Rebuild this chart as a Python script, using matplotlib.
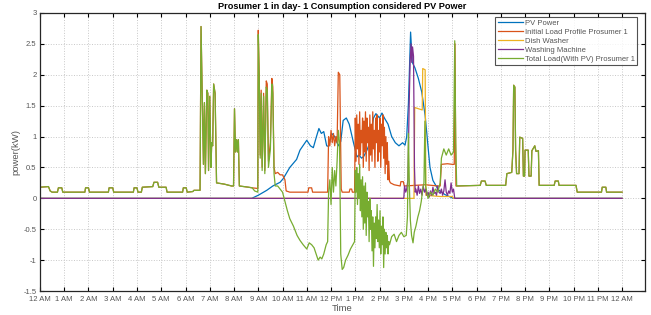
import matplotlib
matplotlib.use('Agg')
import matplotlib.pyplot as plt

plt.rcParams['font.family'] = ['Liberation Sans', 'DejaVu Sans']

# hours of the day (0 = 12 AM) and power in kW

# base load before PV starts (initial load == total load here)
early_t = [0.0, 0.35, 0.42, 0.5, 0.72, 0.76, 0.9, 0.94, 1.85, 1.88, 2.0, 2.04,
           2.82, 2.85, 3.0, 3.04, 3.85, 3.88, 4.0, 4.04, 4.18, 4.22, 4.65, 4.7,
           4.85, 4.9, 5.2, 5.24, 5.88, 5.91, 6.03, 6.07, 6.3, 6.35, 6.6, 6.64,
           6.7, 6.74, 6.78, 6.82, 6.88, 6.92, 6.95, 7.0, 7.05, 7.08, 7.12, 7.16,
           7.22, 7.28, 7.6, 7.9, 7.98, 8.02, 8.06, 8.1, 8.14, 8.18, 8.22, 8.6, 8.75]
early_v = [0.18, 0.19, 0.12, 0.1, 0.1, 0.17, 0.17, 0.1, 0.1, 0.17, 0.17, 0.1,
           0.1, 0.17, 0.17, 0.1, 0.1, 0.17, 0.17, 0.1, 0.1, 0.18, 0.19, 0.26,
           0.26, 0.18, 0.18, 0.1, 0.1, 0.17, 0.17, 0.1, 0.11, 0.13, 0.13, 2.78,
           1.5, 0.55, 1.55, 0.4, 1.75, 1.7, 0.45, 1.65, 0.5, 0.9, 0.85, 1.85,
           1.7, 0.25, 0.23, 0.2, 0.2, 1.45, 0.75, 0.95, 0.75, 0.95, 0.2, 0.18, 0.17]

# base load after the appliances stop
late_t = [17.18, 18.15, 18.2, 18.35, 18.4, 19.2, 19.25, 19.45, 19.5, 19.53, 19.58,
          19.61, 19.65, 19.75, 19.78, 19.9, 19.93, 19.98, 20.0, 20.13, 20.16, 20.25,
          20.28, 20.4, 20.45, 20.55, 20.58, 21.2, 21.24, 21.37, 21.4, 22.1, 22.15,
          23.15, 23.18, 23.33, 23.36, 24.0]
late_v = [0.2, 0.21, 0.28, 0.28, 0.21, 0.21, 0.4, 0.42, 0.78, 1.83, 1.8,
          0.78, 0.4, 0.4, 0.99, 0.97, 0.36, 0.36, 0.78, 0.78, 0.36, 0.36,
          0.77, 0.85, 0.76, 0.77, 0.21, 0.21, 0.28, 0.28, 0.21, 0.21, 0.1,
          0.1, 0.18, 0.18, 0.1, 0.1]

# initial load profile, daytime part
load_t = [8.98, 9.0, 9.04, 9.08, 9.12, 9.16, 9.22, 9.27, 9.33, 9.37, 9.42, 9.5,
          9.56, 9.6, 9.65, 9.7, 9.8, 9.9, 10.0, 10.1, 10.15, 10.3, 11.05, 11.08,
          11.2, 11.24, 11.86, 11.9, 11.95, 12.0, 12.05, 12.1, 12.15, 12.2, 12.25,
          12.3, 12.36, 12.42, 12.46, 12.75, 12.78, 12.85, 12.88, 12.97,
          13.0, 13.03, 13.06, 13.09, 13.12, 13.15, 13.18, 13.21, 13.24, 13.27,
          13.3, 13.33, 13.36, 13.39, 13.42, 13.45, 13.48, 13.51, 13.54, 13.57,
          13.6, 13.63, 13.66, 13.69, 13.72, 13.75, 13.78, 13.81, 13.84, 13.87,
          13.9, 13.93, 13.96, 13.99, 14.02, 14.05, 14.08, 14.11, 14.14, 14.17,
          14.2, 14.23, 14.26, 14.29, 14.32, 14.35, 14.38, 14.41, 14.45, 14.6,
          14.85, 14.88, 14.98, 15.02, 15.9, 16.4, 16.5, 16.55, 16.8, 17.0, 17.08,
          17.11, 17.15]
load_v = [0.16, 2.72, 2.0, 0.7, 1.75, 0.5, 1.7, 0.45, 1.9, 1.85, 0.6, 0.9,
          1.94, 1.8, 0.5, 0.4, 0.42, 0.38, 0.38, 0.3, 0.12, 0.1, 0.1, 0.17,
          0.17, 0.1, 0.1, 1.0, 0.85, 1.1, 0.9, 1.05, 0.85, 1.0, 0.9,
          2.04, 2.0, 0.15, 0.1, 0.1, 0.15, 0.15, 0.1, 0.1,
          1.3, 0.6, 1.35, 0.8, 1.2, 0.55, 1.4, 0.7, 1.1, 0.9,
          1.3, 0.5, 1.25, 0.75, 1.4, 0.6, 1.3, 0.9, 1.15, 0.45,
          1.35, 0.7, 1.2, 0.6, 1.4, 0.8, 1.1, 0.5, 1.3, 0.9,
          1.35, 0.6, 1.1, 0.75, 1.3, 0.5, 1.2, 0.85, 1.35, 0.65,
          1.15, 0.4, 1.0, 0.55, 0.9, 0.3, 0.6, 0.28, 0.25, 0.22,
          0.2, 0.27, 0.27, 0.2, 0.22, 0.2, 0.2, 0.55, 0.56, 0.55, 0.55,
          2.5, 0.2]

# total load with PV, daytime part
total_t = [8.85, 8.98, 9.0, 9.04, 9.08, 9.12, 9.16, 9.22, 9.27, 9.33, 9.37, 9.42,
           9.5, 9.56, 9.6, 9.65, 9.7, 9.8, 9.9, 10.0, 10.1, 10.2, 10.3, 10.45,
           10.6, 10.72, 10.85, 11.0, 11.1, 11.2, 11.3, 11.4, 11.47, 11.55, 11.62,
           11.7, 11.8, 11.86, 11.9, 11.95, 12.0, 12.05, 12.1, 12.15, 12.2, 12.25,
           12.3, 12.35, 12.4, 12.46, 12.52, 12.6, 12.7, 12.8, 12.9, 12.97,
           13.0, 13.03, 13.06, 13.09, 13.12, 13.15, 13.18, 13.21, 13.24, 13.27,
           13.3, 13.33, 13.36, 13.39, 13.42, 13.45, 13.48, 13.51, 13.54, 13.57,
           13.6, 13.63, 13.66, 13.69, 13.72, 13.75, 13.78, 13.81, 13.84, 13.87,
           13.9, 13.93, 13.96, 13.99, 14.02, 14.05, 14.08, 14.11, 14.14, 14.17,
           14.2, 14.23, 14.26, 14.29, 14.32, 14.35, 14.38, 14.41, 14.5, 14.6,
           14.7, 14.8, 14.9, 15.0, 15.1, 15.15, 15.19, 15.23, 15.27, 15.32, 15.38,
           15.43, 15.5, 15.58, 15.65, 15.72, 15.78, 15.83, 15.87, 15.9, 15.95,
           16.0, 16.1, 16.2, 16.3, 16.4, 16.5, 16.55, 16.65, 16.75, 16.85, 16.95,
           17.05, 17.1, 17.14]
total_v = [0.12, 0.1, 2.65, 1.9, 0.65, 1.7, 0.45, 1.65, 0.4, 1.8, 1.75, 0.5,
           0.8, 1.85, 1.7, 0.4, 0.2, 0.2, 0.15, 0.1, -0.05, -0.2, -0.33, -0.45,
           -0.6, -0.68, -0.75, -0.82, -0.72, -0.75, -0.8, -0.92, -1.0, -0.95, -0.98,
           -0.9, -0.75, -0.7, 0.1, 0.3, -0.1, 0.5, 0.1, 0.45, 0.2, 0.6,
           1.1, 0.9, -0.9, -1.15, -1.12, -1.0, -0.92, -0.82, -0.75, -0.7,
           0.45, 0.1, 0.5, -0.1, 0.4, 0.0, 0.55, -0.2, 0.3, -0.3,
           0.35, -0.5, 0.2, -0.4, 0.25, -0.6, 0.1, -0.3, -0.05, -0.7,
           0.0, -0.5, -0.2, -0.85, -0.3, -1.1, -0.4, -0.8, -0.3, -0.65,
           -0.1, -0.7, -0.35, -0.8, -0.2, -0.9, -0.45, -0.75, -0.3, -1.12,
           -0.5, -0.9, -0.55, -0.8, -0.6, -0.9, -0.7, -0.75, -0.62, -0.58,
           -0.7, -0.6, -0.55, -0.62, -0.6, -0.3, 1.05, 0.2, -0.35, -0.6, -0.72,
           -0.55, -0.45, -0.3, -0.2, -0.05, 0.15, 0.25, 1.25, 0.2, 0.1,
           0.0, 0.1, 0.05, 0.15, 0.1, 0.25, 0.65, 0.8, 0.7, 0.8, 0.7,
           0.75, 2.55, 0.9]

pv_t = [0.0, 8.73, 9.0, 9.35, 9.6, 9.9, 10.03, 10.3, 10.58, 10.72, 11.0, 11.15,
        11.27, 11.4, 11.5, 11.6, 11.7, 11.82, 11.9, 12.03, 12.15, 12.3, 12.4, 12.5,
        12.63, 12.75, 12.92, 13.07, 13.15, 13.26, 13.35, 13.47, 13.6, 13.75, 13.85,
        14.0, 14.1, 14.2, 14.35, 14.5, 14.65, 14.8, 14.95, 15.05, 15.12, 15.19,
        15.28, 15.35, 15.46, 15.6, 15.74, 15.88, 16.0, 16.08, 16.2, 16.42, 16.7,
        17.04, 24.0]
pv_v = [0.0, 0.0, 0.05, 0.13, 0.2, 0.26, 0.32, 0.5, 0.63, 0.78, 0.94, 0.85,
        0.82, 1.0, 1.13, 1.05, 1.08, 0.85, 0.84, 1.05, 1.0, 0.85, 0.92, 1.26,
        1.3, 1.2, 0.91, 0.67, 0.7, 0.65, 0.68, 0.77, 0.9, 1.3, 1.37,
        1.3, 1.38, 1.3, 1.2, 1.0, 0.9, 0.85, 0.9, 0.86, 1.0, 1.53,
        2.69, 2.2, 2.11, 1.94, 1.72, 1.34, 0.83, 0.5, 0.29, 0.14, 0.06,
        0.0, 0.0]

dw_t = [0.0, 15.42, 15.45, 15.6, 15.76, 15.78, 15.88, 15.91, 16.2, 16.5, 17.0, 17.05, 24.0]
dw_v = [0.0, 0.0, 1.47, 1.45, 1.43, 2.1, 2.08, 0.05, 0.04, 0.03, 0.03, 0.0, 0.0]

wm_t = [0.0, 15.0, 15.03, 15.08, 15.12, 15.17, 15.22, 15.26, 15.3, 15.33, 15.36,
        15.4, 15.44, 15.47, 15.5, 15.55, 15.6, 15.65, 15.7, 15.75, 15.8, 15.85,
        15.9, 15.95, 16.0, 16.05, 16.1, 16.15, 16.2, 16.25, 16.3, 16.35, 16.4,
        16.45, 16.5, 16.55, 16.6, 16.65, 16.7, 16.75, 16.8, 16.85, 16.9, 16.95,
        17.0, 17.05, 17.1, 24.0]
wm_v = [0.0, 0.0, 0.2, 0.1, 0.15, 0.3, 1.5, 2.2, 2.5, 2.2, 2.45,
        2.3, 0.5, 0.1, 0.15, 0.05, 0.2, 0.08, 0.15, 0.05, 0.2, 0.1,
        0.15, 0.05, 0.1, 0.02, 0.12, 0.05, 0.18, 0.08, 0.1, 0.05, 0.2,
        0.1, 0.08, 0.15, 0.05, 0.12, 0.3, 0.1, 0.05, 0.12, 0.08, 0.25,
        0.1, 0.15, 0.0, 0.0]

tick_labels = ['12 AM'] + ['%d AM' % h for h in range(1, 12)] + ['12 PM'] + \
              ['%d PM' % h for h in range(1, 12)] + ['12 AM']

colors = ['#0072BD', '#D95319', '#EDB120', '#7E2F8E', '#77AC30']

fig = plt.figure(figsize=(6.51, 3.15), dpi=100)
ax = fig.add_axes([0.0614, 0.076, 0.9296, 0.883])

lw = 0.9
ax.plot(pv_t, pv_v, color=colors[0], lw=lw, label='PV Power')
ax.plot(early_t + load_t + late_t, early_v + load_v + late_v, color=colors[1], lw=lw,
        label='Initial Load Profile Prosumer 1')
ax.plot(dw_t, dw_v, color=colors[2], lw=lw, label='Dish Washer')
ax.plot(wm_t, wm_v, color=colors[3], lw=lw, label='Washing Machine')
ax.plot(early_t + total_t + late_t, early_v + total_v + late_v, color=colors[4], lw=lw,
        label='Total Load(With PV) Prosumer 1')

ax.set_xlim(0, 24.95)
ax.set_ylim(-1.5, 3)
ax.set_xticks(range(25))
ax.set_xticklabels(tick_labels)
ax.set_yticks([-1.5, -1, -0.5, 0, 0.5, 1, 1.5, 2, 2.5, 3])
ax.set_yticklabels(['-1.5', '-1', '-0.5', '0', '0.5', '1', '1.5', '2', '2.5', '3'])
ax.tick_params(direction='in', length=3, width=0.8, top=True, right=True,
               labelsize=5.5, labelcolor='#555555')
ax.tick_params(axis='x', pad=3.5)
ax.tick_params(axis='y', pad=2.5)
ax.grid(True, linestyle=':', color='#c8c8c8', linewidth=0.7)
for s in ax.spines.values():
    s.set_linewidth(0.9)
    s.set_color('#262626')

ax.set_title('Prosumer 1 in day- 1 Consumption considered PV Power',
             fontsize=6.6, fontweight='bold', pad=3)
ax.set_xlabel('Time', fontsize=6.8, color='#555555', labelpad=1)
ax.set_ylabel('power(kW)', fontsize=6.8, color='#555555', labelpad=2)

leg = ax.legend(loc='upper right', bbox_to_anchor=(0.987, 0.985), fontsize=5.5,
                frameon=True, fancybox=False, edgecolor='#262626', borderpad=0.35,
                labelspacing=0.2, handlelength=3.3, handletextpad=0.2,
                borderaxespad=0)
leg.get_frame().set_linewidth(0.8)
for t in leg.get_texts():
    t.set_color('#555555')

fig.savefig('out.png', dpi=100)
